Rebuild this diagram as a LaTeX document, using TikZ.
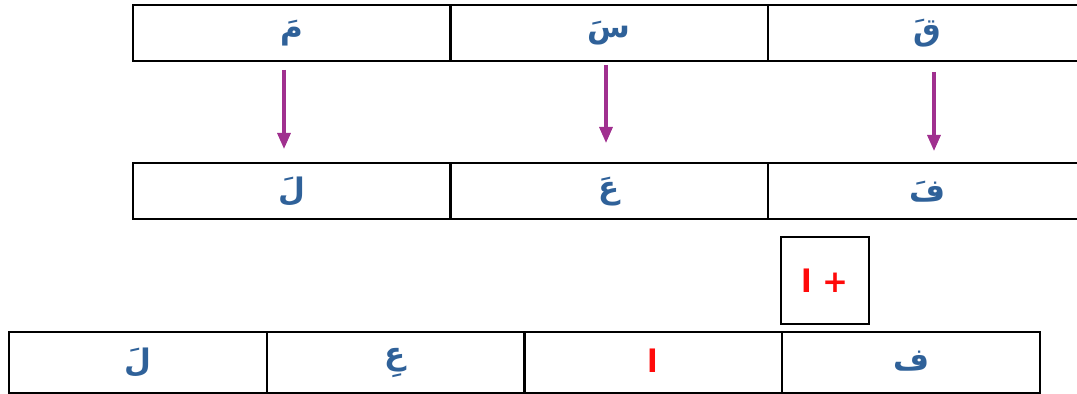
\documentclass[tikz,border=0pt]{standalone}
\usepackage{fontspec}
\usetikzlibrary{arrows.meta,positioning}
\TeXXeTstate=1
\newfontfamily\arabicfont[Script=Arabic]{DejaVu Sans}
\definecolor{letterblue}{HTML}{2F6199}
\definecolor{arrowpurple}{HTML}{A0308F}
\definecolor{addred}{HTML}{FF0A0A}
\newcommand{\ar}[1]{{\arabicfont\bfseries\beginR #1\endR}}
\newcommand{\arup}[1]{\raisebox{2pt}{\ar{#1}}}

\begin{document}
\begin{tikzpicture}[x=0.5pt,y=-0.5pt]
\tikzset{cell/.style={draw,line width=1pt,inner sep=0pt,minimum height=28pt,
  text=letterblue,font=\fontsize{15.5}{18}\selectfont},
  wide/.style={minimum width=159pt},
  narrow/.style={minimum width=129pt,minimum height=30.5pt},
  down/.style={-{Triangle[width=6.5pt,length=8pt]},line width=1.6pt,arrowpurple}}
\useasboundingbox (0,0) rectangle (1077,394);
% top row
\node[cell,wide] (m) at (291.5,33) {\ar{مَ}};
\node[cell,wide] (s) at (609,33) {\ar{سَ}};
\node[cell,wide] (q) at (927,33) {\ar{قَ}};
% middle row
\node[cell,wide] (l) at (291.5,191.5) {\ar{لَ}};
\node[cell,wide] (a) at (609,191.5) {\ar{عَ}};
\node[cell,wide] (f) at (927,191.5) {\ar{فَ}};
% added letter
\node[cell,minimum width=44pt,minimum height=43.5pt,text=addred] (plus) at (825,280.5) {\ar{+ ا}};
% bottom row
\node[cell,narrow] (L) at (137.5,362.5) {\arup{لَ}};
\node[cell,narrow] (A) at (395.5,362.5) {\arup{عِ}};
\node[cell,narrow,text=addred] (alif) at (653,362.5) {\arup{ا}};
\node[cell,narrow] (F) at (911,362.5) {\arup{ف}};
% arrows
\coordinate (m1) at (284,70);  \coordinate (m2) at (284,149);
\coordinate (s1) at (606,65);  \coordinate (s2) at (606,143);
\coordinate (q1) at (934,72);  \coordinate (q2) at (934,151);
\draw[down] (m1) -- (m2);
\draw[down] (s1) -- (s2);
\draw[down] (q1) -- (q2);
\end{tikzpicture}
\end{document}
